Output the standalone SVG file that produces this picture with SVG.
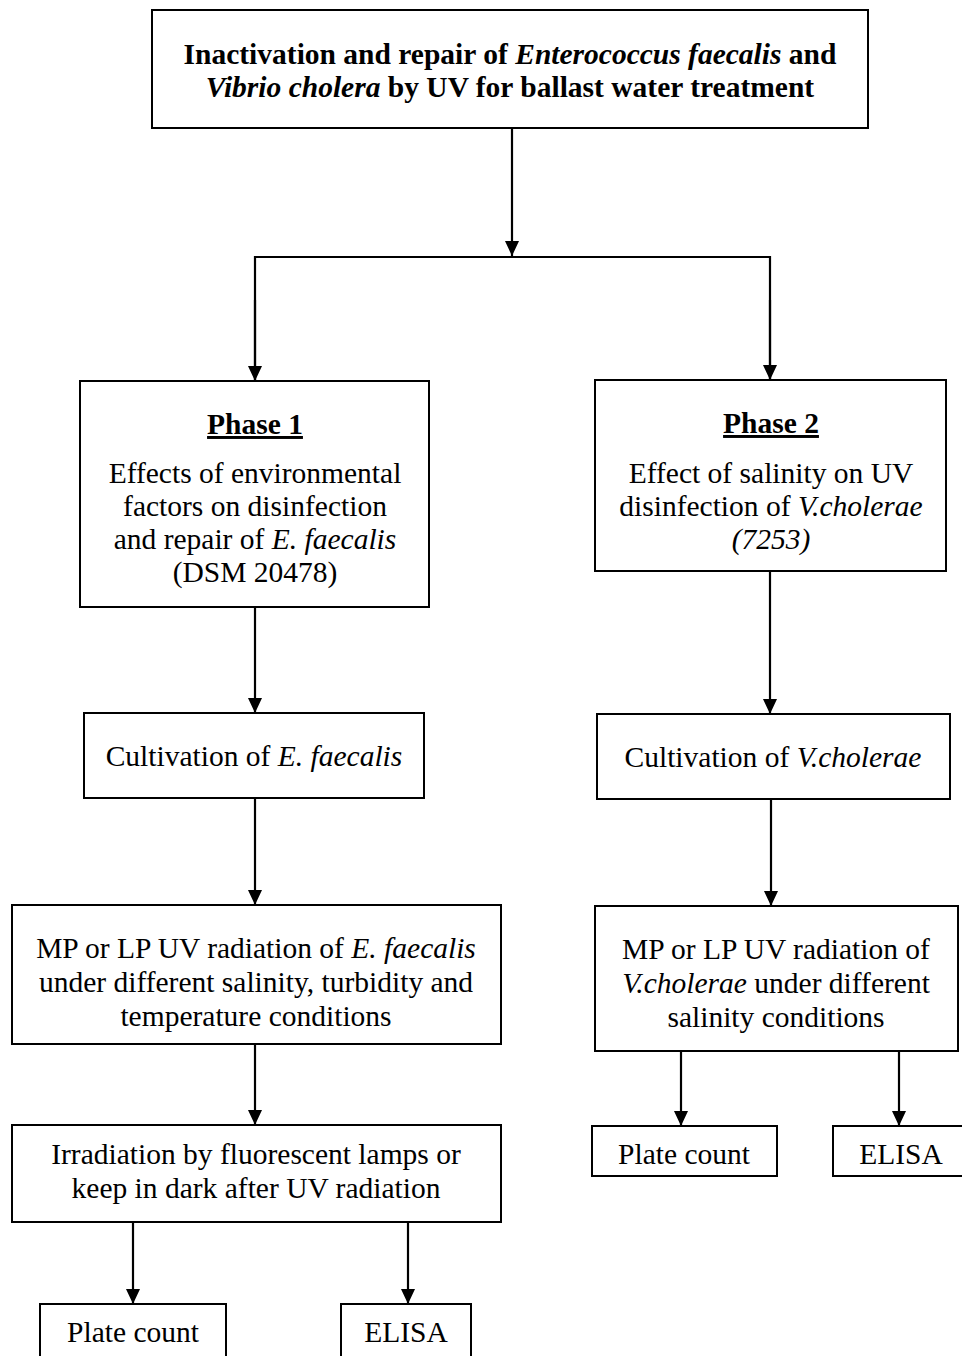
<svg xmlns="http://www.w3.org/2000/svg" width="962" height="1356" viewBox="0 0 962 1356">
<style>
.box{fill:#fff;stroke:#000;stroke-width:2}
.t{font-family:"Liberation Serif","Times New Roman",serif;font-size:29.5px;fill:#000;text-anchor:middle}
.b{font-weight:bold}
.i{font-style:italic}
.u{text-decoration:underline}
.c{stroke:#000;stroke-width:2.2;fill:none}
</style>
<defs>
<marker id="ah" viewBox="0 0 15 14" refX="15" refY="7" markerWidth="15" markerHeight="14" orient="auto" markerUnits="userSpaceOnUse">
<path d="M0,0 L15,7 L0,14 z" fill="#000"/>
</marker>
</defs>
<rect width="962" height="1356" fill="#fff"/>
<g id="connectors">
<line class="c" x1="512" y1="128" x2="512" y2="256" marker-end="url(#ah)"/>
<polyline class="c" points="255,381 255,257 770,257 770,380" />
<line class="c" x1="255" y1="300" x2="255" y2="381" marker-end="url(#ah)"/>
<line class="c" x1="770" y1="300" x2="770" y2="380" marker-end="url(#ah)"/>
<line class="c" x1="255" y1="607" x2="255" y2="713" marker-end="url(#ah)"/>
<line class="c" x1="770" y1="571" x2="770" y2="714" marker-end="url(#ah)"/>
<line class="c" x1="255" y1="798" x2="255" y2="905" marker-end="url(#ah)"/>
<line class="c" x1="771" y1="799" x2="771" y2="906" marker-end="url(#ah)"/>
<line class="c" x1="255" y1="1044" x2="255" y2="1125" marker-end="url(#ah)"/>
<line class="c" x1="133" y1="1222" x2="133" y2="1304" marker-end="url(#ah)"/>
<line class="c" x1="408" y1="1222" x2="408" y2="1304" marker-end="url(#ah)"/>
<line class="c" x1="681" y1="1051" x2="681" y2="1126" marker-end="url(#ah)"/>
<line class="c" x1="899" y1="1051" x2="899" y2="1126" marker-end="url(#ah)"/>
</g>
<g id="title">
<rect class="box" x="152" y="10" width="716" height="118"/>
<text class="t b" x="510" y="64">Inactivation and repair of <tspan class="i">Enterococcus faecalis</tspan> and</text>
<text class="t b" x="510" y="97"><tspan class="i">Vibrio cholera</tspan> by UV for ballast water treatment</text>
</g>
<g id="phase1">
<rect class="box" x="80" y="381" width="349" height="226"/>
<text class="t b u" x="255" y="434">Phase 1</text>
<text class="t" x="255" y="483">Effects of environmental</text>
<text class="t" x="255" y="516">factors on disinfection</text>
<text class="t" x="255" y="549">and repair of <tspan class="i">E. faecalis</tspan></text>
<text class="t" x="255" y="582">(DSM 20478)</text>
</g>
<g id="phase2">
<rect class="box" x="595" y="380" width="351" height="191"/>
<text class="t b u" x="771" y="433">Phase 2</text>
<text class="t" x="771" y="483">Effect of salinity on UV</text>
<text class="t" x="771" y="516">disinfection of <tspan class="i">V.cholerae</tspan></text>
<text class="t i" x="771" y="549">(7253)</text>
</g>
<g id="cult1">
<rect class="box" x="84" y="713" width="340" height="85"/>
<text class="t" x="254" y="766">Cultivation of <tspan class="i">E. faecalis</tspan></text>
</g>
<g id="cult2">
<rect class="box" x="597" y="714" width="353" height="85"/>
<text class="t" x="773" y="767">Cultivation of <tspan class="i">V.cholerae</tspan></text>
</g>
<g id="mp1">
<rect class="box" x="12" y="905" width="489" height="139"/>
<text class="t" x="256" y="958">MP or LP UV radiation of <tspan class="i">E. faecalis</tspan></text>
<text class="t" x="256" y="992">under different salinity, turbidity and</text>
<text class="t" x="256" y="1026">temperature conditions</text>
</g>
<g id="mp2">
<rect class="box" x="595" y="906" width="363" height="145"/>
<text class="t" x="776" y="959">MP or LP UV radiation of</text>
<text class="t" x="776" y="993"><tspan class="i">V.cholerae</tspan> under different</text>
<text class="t" x="776" y="1027">salinity conditions</text>
</g>
<g id="irr">
<rect class="box" x="12" y="1125" width="489" height="97"/>
<text class="t" x="256" y="1164">Irradiation by fluorescent lamps or</text>
<text class="t" x="256" y="1198">keep in dark after UV radiation</text>
</g>
<g id="plate1">
<rect class="box" x="40" y="1304" width="186" height="70"/>
<text class="t" x="133" y="1342">Plate count</text>
</g>
<g id="elisa1">
<rect class="box" x="341" y="1304" width="130" height="70"/>
<text class="t" x="406" y="1342">ELISA</text>
</g>
<g id="plate2">
<rect class="box" x="592" y="1126" width="185" height="50"/>
<text class="t" x="684" y="1164">Plate count</text>
</g>
<g id="elisa2">
<rect class="box" x="833" y="1126" width="140" height="50"/>
<text class="t" x="901" y="1164">ELISA</text>
</g>
</svg>
